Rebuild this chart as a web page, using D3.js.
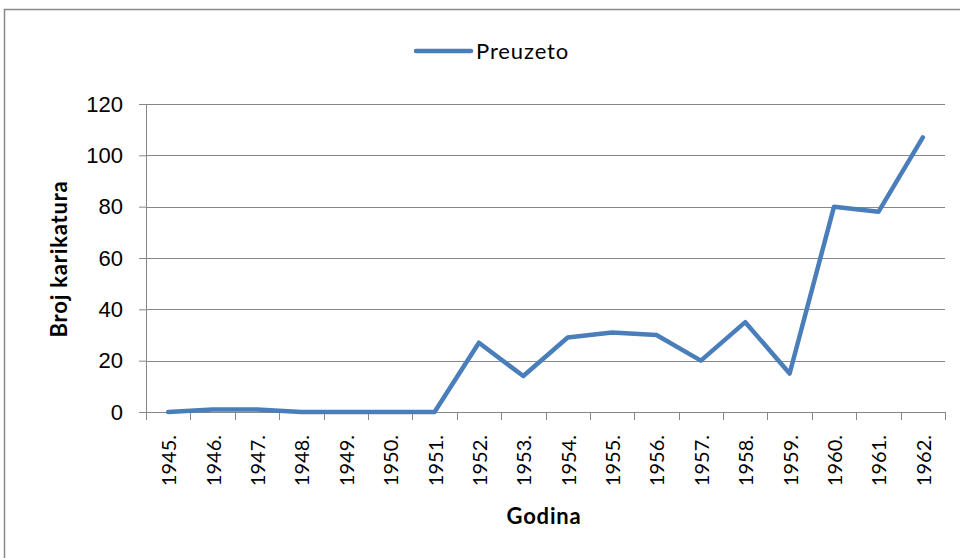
<!DOCTYPE html>
<html>
<head>
<meta charset="utf-8">
<script src="https://cdn.jsdelivr.net/npm/d3@7"></script>
<style>
  body { margin: 0; background: #fff; }
  svg { display: block; font-family: Lato, "Open Sans", sans-serif; }
</style>
</head>
<body>
<script>
var years = ["1945.", "1946.", "1947.", "1948.", "1949.", "1950.", "1951.", "1952.", "1953.",
             "1954.", "1955.", "1956.", "1957.", "1958.", "1959.", "1960.", "1961.", "1962."];
var preuzeto = [0, 1, 1, 0, 0, 0, 0, 27, 14, 29, 31, 30, 20, 35, 15, 80, 78, 107];
var yTicks = [0, 20, 40, 60, 80, 100, 120];
var seriesName = "Preuzeto";

var width = 960, height = 558;
var margin = {top: 104, right: 15, bottom: 146, left: 146};
var plotW = width - margin.left - margin.right,
    plotH = height - margin.top - margin.bottom;

var svg = d3.select("body").append("svg")
    .attr("width", width)
    .attr("height", height);

// outer frame
svg.append("rect")
    .attr("x", 4.5).attr("y", 9.5)
    .attr("width", 980).attr("height", 600)
    .attr("fill", "none")
    .attr("stroke", "#888")
    .attr("stroke-width", 1.5);

var g = svg.append("g")
    .attr("transform", "translate(" + margin.left + "," + margin.top + ")");

var x = d3.scaleBand()
    .domain(years)
    .range([0, plotW]);

var y = d3.scaleLinear()
    .domain([0, 120])
    .range([plotH, 0]);

// gridlines
g.selectAll(".grid")
    .data(yTicks.filter(function(d) { return d > 0; }))
    .enter().append("line")
    .attr("x1", 0).attr("x2", plotW)
    .attr("y1", function(d) { return Math.round(y(d)) + 0.5; })
    .attr("y2", function(d) { return Math.round(y(d)) + 0.5; })
    .attr("stroke", "#868686")
    .attr("stroke-width", 1);

// y axis
var axisY = g.append("g")
    .call(d3.axisLeft(y).tickValues(yTicks).tickSize(7).tickPadding(16));
axisY.selectAll("text")
    .attr("font-size", 22)
    .attr("fill", "#000");
axisY.selectAll("line, path").attr("stroke", "#868686");

// x axis: ticks on category boundaries
var axisX = g.append("g")
    .attr("transform", "translate(0," + plotH + ")");
axisX.append("line")
    .attr("x1", 0).attr("x2", plotW)
    .attr("y1", 0.5).attr("y2", 0.5)
    .attr("stroke", "#868686");
axisX.selectAll(".tick")
    .data(years.concat(["end"]))
    .enter().append("line")
    .attr("x1", function(d, i) { return Math.round(i * x.bandwidth()) + 0.5; })
    .attr("x2", function(d, i) { return Math.round(i * x.bandwidth()) + 0.5; })
    .attr("y1", 0).attr("y2", 8)
    .attr("stroke", "#868686");
axisX.selectAll(".lbl")
    .data(years)
    .enter().append("text")
    .attr("transform", function(d) {
        return "translate(" + (x(d) + x.bandwidth() / 2 + 8) + ",23) rotate(-90)";
    })
    .attr("text-anchor", "end")
    .attr("font-size", 20)
    .attr("fill", "#000")
    .text(function(d) { return d; });

// line
var line = d3.line()
    .x(function(d, i) { return x(years[i]) + x.bandwidth() / 2; })
    .y(function(d) { return y(d); });

g.append("path")
    .datum(preuzeto)
    .attr("fill", "none")
    .attr("stroke", "#4a7ebb")
    .attr("stroke-width", 4.5)
    .attr("stroke-linejoin", "round")
    .attr("stroke-linecap", "round")
    .attr("d", line);

// axis titles
svg.append("text")
    .attr("x", 544)
    .attr("y", 524)
    .attr("text-anchor", "middle")
    .attr("font-size", 22)
    .attr("letter-spacing", 0.8)
    .attr("font-weight", "bold")
    .text("Godina");

svg.append("text")
    .attr("transform", "translate(67,259) rotate(-90)")
    .attr("text-anchor", "middle")
    .attr("font-size", 22)
    .attr("letter-spacing", 0.8)
    .attr("font-weight", "bold")
    .text("Broj karikatura");

// legend
var legend = svg.append("g").attr("transform", "translate(416,51)");
legend.append("line")
    .attr("x1", 0).attr("x2", 55)
    .attr("y1", 0).attr("y2", 0)
    .attr("stroke", "#4a7ebb")
    .attr("stroke-width", 4.5)
    .attr("stroke-linecap", "round");
legend.append("text")
    .attr("x", 60).attr("y", 8)
    .attr("font-size", 22)
    .attr("letter-spacing", 0.9)
    .text(seriesName);
</script>
</body>
</html>
